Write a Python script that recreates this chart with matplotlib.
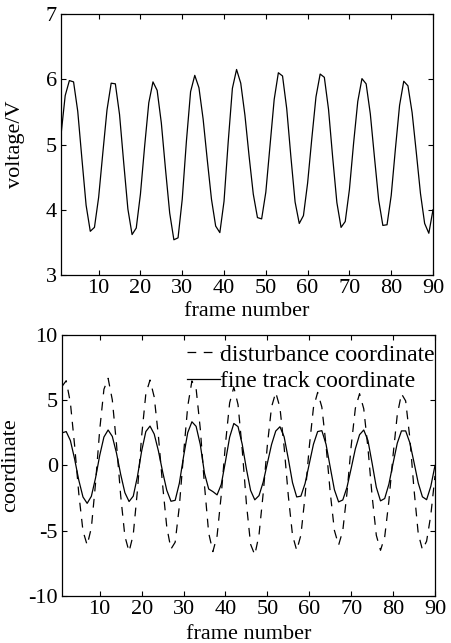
import numpy as np
import matplotlib
matplotlib.use("Agg")
import matplotlib.pyplot as plt

# frame numbers 1..90
frames = list(range(1, 91))

# top panel: measured voltage per frame
voltage = [5.15, 5.75, 5.98, 5.96, 5.51, 4.78, 4.07, 3.67, 3.73, 4.19,
           4.87, 5.53, 5.94, 5.93, 5.46, 4.72, 4.01, 3.62, 3.72, 4.24,
           4.97, 5.64, 5.96, 5.83, 5.33, 4.62, 3.95, 3.54, 3.57, 4.16,
           5.05, 5.81, 6.06, 5.87, 5.39, 4.76, 4.16, 3.75, 3.65, 4.13,
           5.04, 5.86, 6.15, 5.94, 5.45, 4.82, 4.24, 3.88, 3.86, 4.27,
           4.98, 5.69, 6.10, 6.05, 5.55, 4.81, 4.12, 3.79, 3.91, 4.41,
           5.09, 5.73, 6.08, 6.03, 5.54, 4.80, 4.11, 3.73, 3.82, 4.31,
           5.02, 5.66, 6.01, 5.93, 5.47, 4.80, 4.15, 3.76, 3.77, 4.22,
           4.93, 5.60, 5.97, 5.90, 5.49, 4.88, 4.25, 3.79, 3.64, 4.00]

# bottom panel: disturbance and fine track coordinates
disturbance = [6.06, 6.50, 4.80, 1.56, -2.14, -5.01, -6.10, -4.78, -1.36, 2.75,
               5.84, 6.68, 5.03, 1.64, -2.31, -5.42, -6.60, -5.29, -1.90, 2.25,
               5.49, 6.55, 5.25, 2.26, -1.47, -4.72, -6.40, -5.88, -3.11, 0.87,
               4.54, 6.48, 5.89, 2.79, -1.53, -5.18, -6.60, -5.40, -2.25, 1.65,
               4.80, 6.00, 4.67, 1.23, -2.91, -6.04, -6.85, -5.34, -2.15, 1.56,
               4.49, 5.60, 4.44, 1.42, -2.32, -5.34, -6.50, -5.34, -2.32, 1.42,
               4.44, 5.60, 4.48, 1.56, -2.06, -4.98, -6.10, -4.99, -2.09, 1.49,
               4.39, 5.50, 4.35, 1.35, -2.35, -5.35, -6.50, -5.47, -2.72, 0.80,
               3.89, 5.50, 4.95, 2.10, -1.85, -5.21, -6.45, -5.80, -3.80, -0.80]

fine_track = [2.50, 2.60, 1.91, 0.51, -1.12, -2.41, -2.90, -2.36, -0.96, 0.78,
              2.18, 2.72, 2.23, 0.95, -0.68, -2.08, -2.76, -2.35, -0.84, 1.10,
              2.60, 3.02, 2.41, 1.12, -0.47, -1.90, -2.74, -2.67, -1.36, 0.68,
              2.52, 3.35, 3.00, 1.60, -0.60, -1.80, -2.00, -2.25, -1.45, 0.31,
              2.17, 3.22, 2.98, 1.63, -0.26, -1.91, -2.63, -2.31, -1.28, 0.17,
              1.61, 2.64, 2.97, 2.20, 0.51, -1.31, -2.41, -2.35, -1.38, 0.13,
              1.63, 2.60, 2.67, 1.63, -0.13, -1.86, -2.79, -2.64, -1.67, -0.22,
              1.28, 2.36, 2.72, 1.92, 0.17, -1.67, -2.71, -2.53, -1.43, 0.17,
              1.71, 2.65, 2.65, 1.74, 0.23, -1.34, -2.40, -2.62, -1.60, 0.00]

xticks = [10, 20, 30, 40, 50, 60, 70, 80, 90]

plt.rcParams['font.family'] = ['Liberation Serif', 'DejaVu Serif']
plt.rcParams['font.size'] = 16

fig = plt.figure(figsize=(4.51, 6.43), dpi=100)

def style_axes(ax):
    ax.tick_params(direction='in', top=True, right=True, length=3.5, width=0.8,
                   labelsize=16, pad=3)
    for s in ax.spines.values():
        s.set_linewidth(0.9)

# top panel
ax1 = fig.add_axes([0.1353, 0.5723, 0.8248, 0.4059])
ax1.plot(frames, voltage, color='black', linewidth=0.9)
ax1.set_xlim(1, 90)
ax1.set_ylim(3, 7)
ax1.set_xticks(xticks)
ax1.set_yticks([3, 4, 5, 6, 7])
style_axes(ax1)
ax1.set_xlabel('frame number', fontsize=16)
ax1.set_ylabel('voltage/V', fontsize=16)
ax1.xaxis.set_label_coords(0.5, -0.105)
ax1.yaxis.set_label_coords(-0.097, 0.5)

# bottom panel
ax2 = fig.add_axes([0.1375, 0.0731, 0.827, 0.4059])
ax2.plot(frames, disturbance, color='black', linewidth=0.9, linestyle=(0, (7, 6)),
         label='disturbance coordinate')
ax2.plot(frames, fine_track, color='black', linewidth=0.9,
         label='fine track coordinate')
ax2.set_xlim(1, 90)
ax2.set_ylim(-10, 10)
ax2.set_xticks(xticks)
ax2.set_yticks([-10, -5, 0, 5, 10])
ax2.set_yticklabels(['-10', '-5', '0', '5', '10'])
style_axes(ax2)
ax2.set_xlabel('frame number', fontsize=16)
ax2.set_ylabel('coordinate', fontsize=16)
ax2.xaxis.set_label_coords(0.5, -0.11)
ax2.yaxis.set_label_coords(-0.113, 0.5)
leg = ax2.legend(loc='upper right', bbox_to_anchor=(1.0, 0.965), frameon=False,
                 fontsize=17, handlelength=1.4, handletextpad=0.0,
                 labelspacing=0.2, borderaxespad=0.0, borderpad=0.0)
for h in leg.get_lines():
    h.set_linewidth(0.9)

fig.savefig('out.png', dpi=100)
